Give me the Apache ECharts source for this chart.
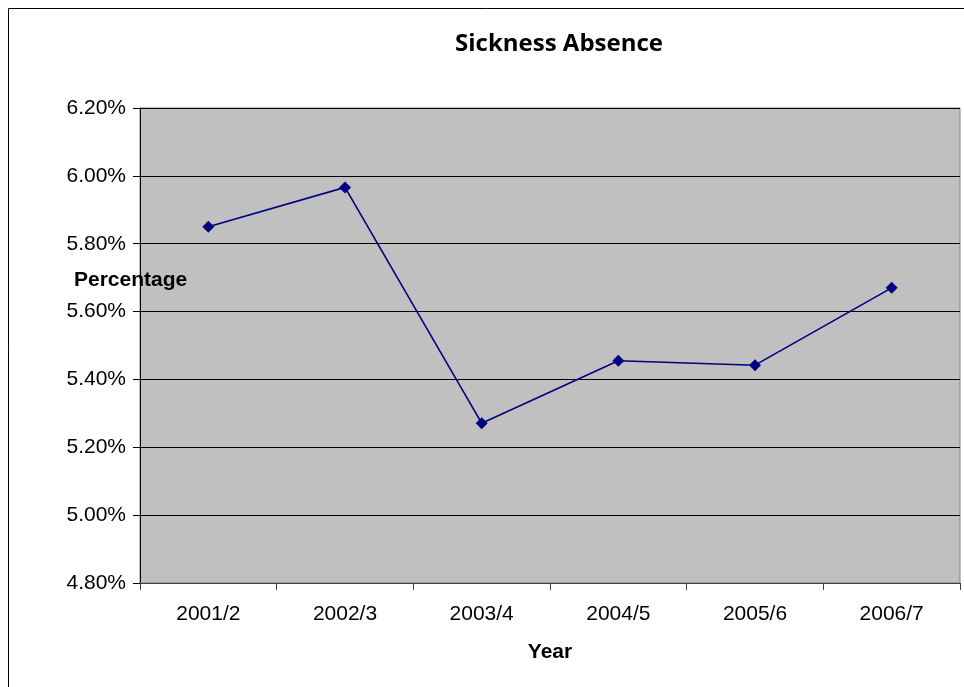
<!DOCTYPE html>
<html style="height: 100%">
<head>
  <meta charset="utf-8">
</head>
<body style="height: 100%; margin: 0">
  <div id="container" style="width: 964px; height: 687px"></div>
  <script src="https://cdn.jsdelivr.net/npm/echarts@6/dist/echarts.min.js"></script>
  <script>
    // chart data
    var years = ['2001/2', '2002/3', '2003/4', '2004/5', '2005/6', '2006/7'];
    var absence = [5.85, 5.966, 5.271, 5.455, 5.442, 5.67];

    var myChart = echarts.init(document.getElementById('container'), null, { renderer: 'canvas' });

    var option = {
      animation: false,
      backgroundColor: '#ffffff',
      graphic: [{
        type: 'rect',
        shape: { x: 8.5, y: 8.5, width: 1000, height: 1000 },
        style: { fill: 'none', stroke: '#000', lineWidth: 1 },
        silent: true
      }, {
        type: 'text',
        left: 74, top: 270,
        style: { text: 'Percentage', font: 'bold 21px "Liberation Sans", Arial', fill: '#000' }
      }],
      title: {
        text: 'Sickness Absence',
        left: 554, top: 27,
        textAlign: 'center',
        textStyle: { fontFamily: 'Open Sans', fontWeight: 'bold', fontSize: 24, color: '#000' }
      },
      grid: {
        left: 140, right: 4, top: 108, bottom: 104,
        show: true,
        backgroundColor: '#c0c0c0',
        borderColor: '#808080',
        borderWidth: 1
      },
      xAxis: {
        type: 'category',
        data: years,
        boundaryGap: true,
        name: 'Year',
        nameLocation: 'middle',
        nameGap: 59,
        nameTextStyle: { fontFamily: 'Liberation Sans', fontWeight: 'bold', fontSize: 21, color: '#000' },
        axisLine: { lineStyle: { color: '#404040', width: 1 } },
        axisTick: { show: true, alignWithLabel: false, length: 7, lineStyle: { color: '#404040' } },
        axisLabel: { margin: 21, fontFamily: 'Liberation Sans', fontSize: 21, color: '#000' }
      },
      yAxis: {
        type: 'value',
        min: 4.8,
        max: 6.2,
        interval: 0.2,
        axisLine: { show: true, lineStyle: { color: '#000', width: 1 } },
        axisTick: { show: true, length: 7, lineStyle: { color: '#000' } },
        axisLabel: {
          margin: 14,
          fontFamily: 'Liberation Sans', fontSize: 21, color: '#000',
          formatter: function (v) { return v.toFixed(2) + '%'; }
        },
        splitLine: { lineStyle: { color: '#000', width: 1 } }
      },
      series: [{
        type: 'line',
        data: absence,
        symbol: 'diamond',
        symbolSize: 12,
        lineStyle: { color: '#000080', width: 1.6 },
        itemStyle: { color: '#000080' }
      }]
    };

    myChart.setOption(option);
    window.addEventListener('resize', myChart.resize);
  </script>
</body>
</html>
